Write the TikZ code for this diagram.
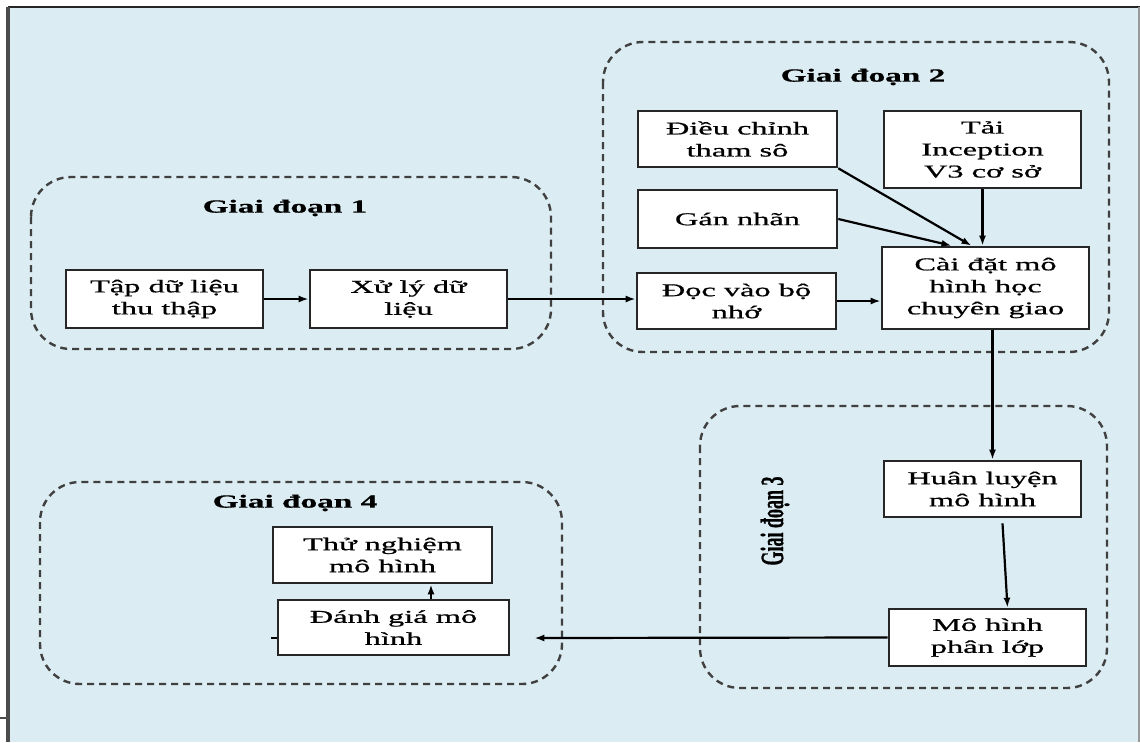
\documentclass[tikz,border=0pt]{standalone}
\usepackage{fontspec}
\usepackage{graphicx}
\usetikzlibrary{arrows.meta,
	positioning,
	calc}
\newfontfamily\boxfont{Liberation Serif}[FakeStretch=1.8, FakeBold=0.8]
\newfontfamily\vertfont{Liberation Serif}[FakeBold=0.8]
\definecolor{bgblue}{RGB}{219,236,242}
\tikzstyle{proc}=[draw=black!85, fill=white, line width=2.6pt, inner sep=0,
		align=center, font=\boxfont\fontsize{18}{22}\selectfont]
\tikzstyle{stage}=[draw=black!75, line width=2.4pt, dash pattern=on 7pt off 5pt,
		rounded corners=40pt]
\tikzstyle{stagetitle}=[font=\boxfont\bfseries\fontsize{18.5}{22}\selectfont]
\tikzstyle{arr}=[line width=2.2pt, -{Latex[length=10pt,width=7pt]}]

\begin{document}
\begin{tikzpicture}[x=1pt, y=-1pt]
            \useasboundingbox (0,0) rectangle (1140,742);
            % frame
            \fill[bgblue] (8,7) rectangle (1140,742);
            \draw[line width=1.8pt, black!85] (8,7) -- (1140,7);
            \draw[line width=3.5pt, black!70] (8,7) -- (8,742);
            \draw[line width=1.4pt, black!40] (1139,7) -- (1139,742);
            \draw[line width=1.4pt, black!70] (0,718) -- (8,718);
            % stages
            \draw[stage] (31,177) rectangle (551,349);
            \draw[stage] (603,42) rectangle (1109,352);
            \draw[stage] (700,406) rectangle (1107,688);
            \draw[stage] (40,482) rectangle (562,684);
            \node[stagetitle] (g1title) at (285,208) {Giai đoạn 1};
            \node[stagetitle] (g2title) at (863,77) {Giai đoạn 2};
            \node (g3title) at (775,521) {\scalebox{1.8}[1]{\rotatebox{90}{\vertfont\bfseries\fontsize{18}{22}\selectfont Giai đoạn 3}}};
            \node[stagetitle] (g4title) at (295,503) {Giai đoạn 4};
            % steps
            \node[proc, minimum width=197pt, minimum height=58pt] (taplieu) at (164.5,299) {Tập dữ liệu\\thu thập};
            \node[proc, minimum width=197pt, minimum height=58pt] (xuly) at (408.5,299) {Xử lý dữ\\liệu};
            \node[proc, minimum width=199pt, minimum height=56pt] (dieuchinh) at (737.5,139) {Điều chỉnh\\tham sô};
            \node[proc, minimum width=199pt, minimum height=58pt] (gannhan) at (737.5,219) {Gán nhãn};
            \node[proc, minimum width=199pt, minimum height=56pt] (docvao) at (736.5,301) {Đọc vào bộ\\nhớ};
            \node[proc, minimum width=197pt, minimum height=77pt] (tai) at (982.5,149.5) {Tải\\Inception\\V3 cơ sở};
            \node[proc, minimum width=207pt, minimum height=82pt] (caidat) at (985.5,288) {Cài đặt mô\\hình học\\chuyên giao};
            \node[proc, minimum width=197pt, minimum height=56pt] (huanluyen) at (982.5,489) {Huân luyện\\mô hình};
            \node[proc, minimum width=197pt, minimum height=57pt] (mohinh) at (987.5,637.5) {Mô hình\\phân lớp};
            \node[proc, minimum width=231pt, minimum height=55pt] (danhgia) at (393.5,627.5) {Đánh giá mô\\hình};
            \node[proc, minimum width=219pt, minimum height=56pt] (thunghiem) at (382.5,555) {Thử nghiệm\\mô hình};
            % flow
            \draw[arr] (taplieu.east) -- (xuly.west);
            \draw[arr] (xuly.east) -- (xuly.east -| docvao.west);
            \draw[arr] (docvao.east) -- (docvao.east -| caidat.west);
            \draw[arr] (dieuchinh.south east) -- ([xshift=-14pt]caidat.north);
            \draw[arr] (gannhan.east) -- ([xshift=-34pt]caidat.north);
            \draw[arr] (tai.south) -- (tai.south |- caidat.north);
            \draw[arr] ([xshift=7pt]caidat.south) -- ([xshift=7pt]caidat.south |- huanluyen.north);
            \draw[arr] ([xshift=20pt,yshift=-5pt]huanluyen.south) -- ([xshift=20pt]mohinh.north);
            \draw[arr] (mohinh.west) -- ([xshift=24pt,yshift=-10.5pt]danhgia.east);
            \draw[arr] ([xshift=37.5pt]danhgia.north) -- ([xshift=37.5pt]danhgia.north |- thunghiem.south);
            \draw[line width=1.4pt] ([yshift=-10.5pt]danhgia.west) -- ++(-6,0);
\end{tikzpicture}
\end{document}
